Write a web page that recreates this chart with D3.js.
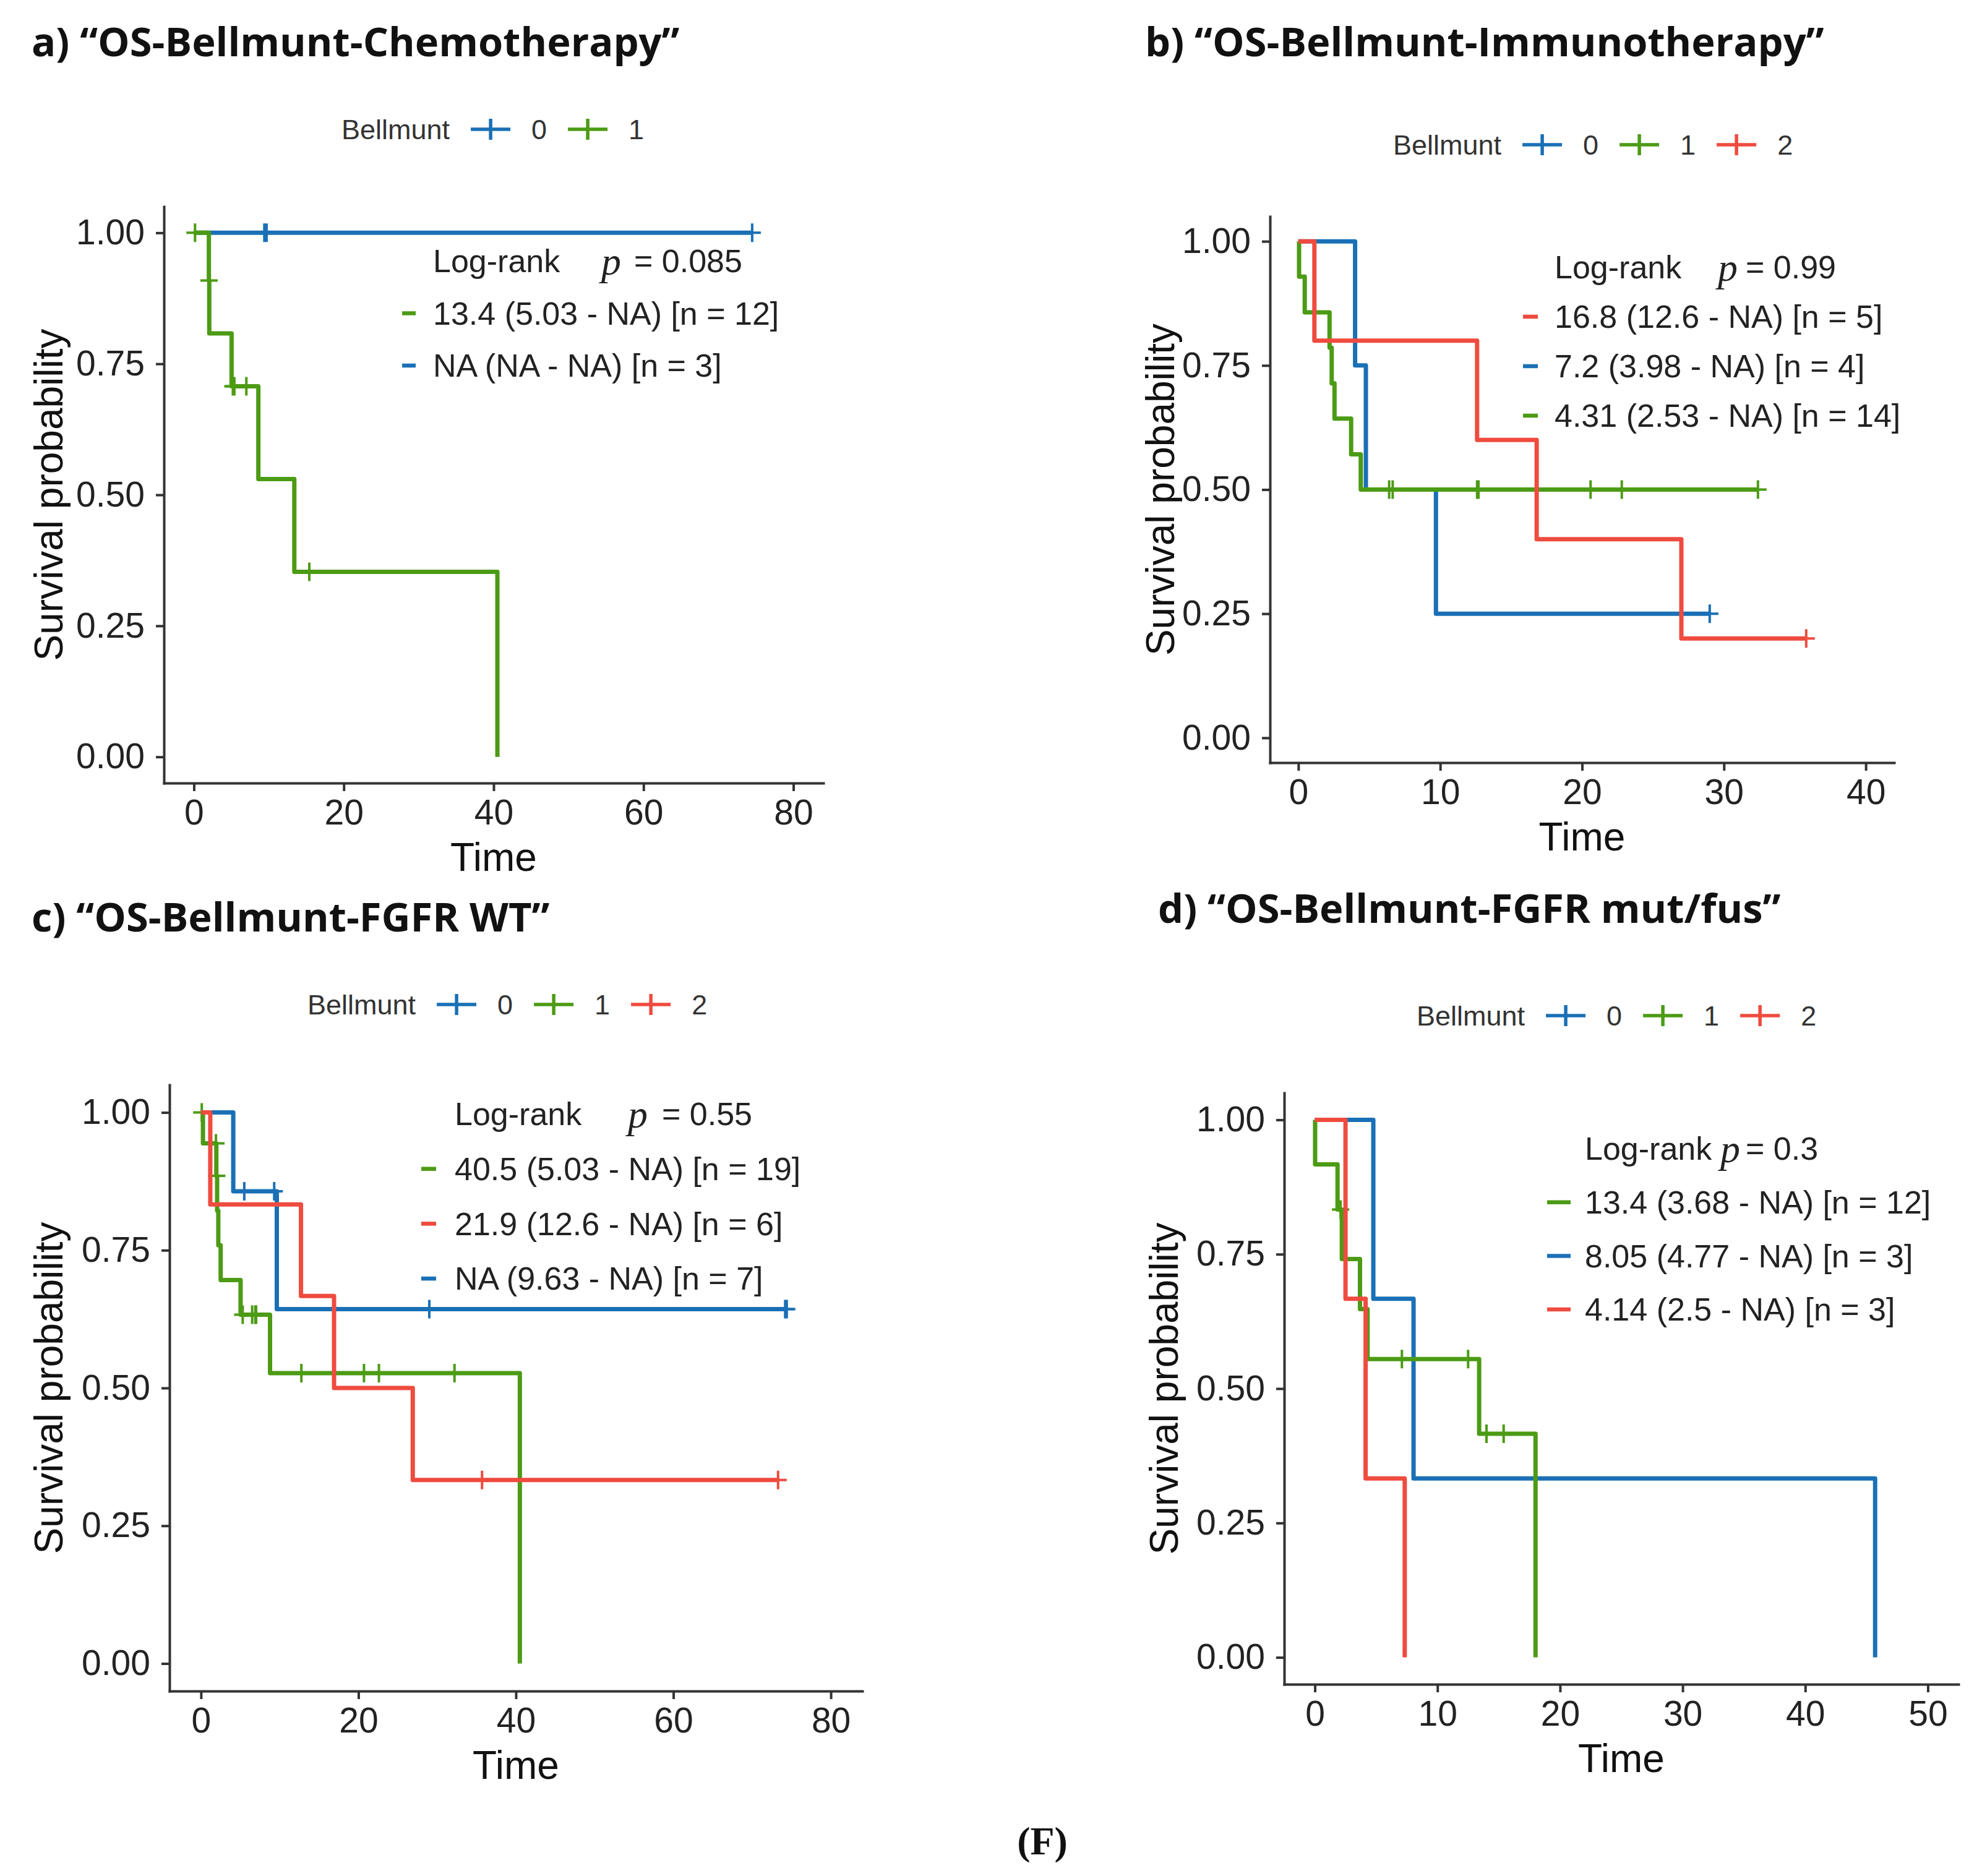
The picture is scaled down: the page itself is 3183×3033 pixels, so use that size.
<!DOCTYPE html>
<html>
<head>
<meta charset="utf-8">
<script src="https://cdn.jsdelivr.net/npm/d3@7"></script>
<style>
  body { margin: 0; background: #fff; }
</style>
</head>
<body>
<div id="chart-area"></div>
<script>
const W = 3183, H = 3033;
const colors = { '0': '#1a70b6', '1': '#4c9b15', '2': '#ef4b3f' };
const sansFont = '"Liberation Sans", Arial, sans-serif';

// ---- a) OS-Bellmunt-Chemotherapy ----
const chemoTimes0 = [];
const chemoSurv0 = [];
const chemoCens0 = [9.4, 9.7, 74.5];
const chemoTimes1 = [2.0, 2.05, 5.03, 8.6, 13.4, 40.5];
const chemoSurv1 = [0.909, 0.808, 0.707, 0.530, 0.353, 0];
const chemoCens1 = [0.15, 2.02, 5.2, 5.4, 7.0, 15.4];
const chemoNotes = ['13.4 (5.03 - NA) [n = 12]', 'NA (NA - NA) [n = 3]'];
const chemoNoteGroups = ['1', '0'];

// ---- b) OS-Bellmunt-Immunotherapy ----
const immunoTimes0 = [4.0, 4.76, 9.7];
const immunoSurv0 = [0.75, 0.5, 0.25];
const immunoCens0 = [29.0];
const immunoTimes1 = [0.05, 0.45, 2.2, 2.35, 2.55, 3.72, 4.4];
const immunoSurv1 = [0.929, 0.857, 0.786, 0.714, 0.643, 0.571, 0.5];
const immunoCens1 = [6.4, 6.65, 12.6, 12.7, 20.6, 22.8, 32.4];
const immunoTimes2 = [1.13, 12.6, 16.8, 27.0];
const immunoSurv2 = [0.8, 0.6, 0.4, 0.2];
const immunoCens2 = [35.8];
const immunoNotes = ['16.8 (12.6 - NA) [n = 5]', '7.2 (3.98 - NA) [n = 4]', '4.31 (2.53 - NA) [n = 14]'];
const immunoNoteGroups = ['2', '0', '1'];

// ---- c) OS-Bellmunt-FGFR WT ----
const wtTimes0 = [4.1, 9.63];
const wtSurv0 = [0.857, 0.643];
const wtCens0 = [5.5, 9.3, 29.0, 74.2, 74.4];
const wtTimes1 = [0.25, 1.95, 2.05, 2.2, 2.5, 5.03, 8.77, 40.5];
const wtSurv1 = [0.944, 0.885, 0.822, 0.759, 0.696, 0.633, 0.527, 0];
const wtCens1 = [0.1, 1.9, 2.0, 5.3, 6.5, 6.9, 7.0, 12.75, 20.7, 22.6, 32.2];
const wtTimes2 = [1.18, 12.7, 16.9, 26.9];
const wtSurv2 = [0.833, 0.667, 0.5, 0.333];
const wtCens2 = [35.7, 73.3];
const wtNotes = ['40.5 (5.03 - NA) [n = 19]', '21.9 (12.6 - NA) [n = 6]', 'NA (9.63 - NA) [n = 7]'];
const wtNoteGroups = ['1', '2', '0'];

// ---- d) OS-Bellmunt-FGFR mut/fus ----
const mutTimes0 = [4.77, 8.05, 45.7];
const mutSurv0 = [0.667, 0.333, 0];
const mutCens0 = [];
const mutTimes1 = [0.02, 1.85, 2.2, 3.68, 4.3, 13.4, 18.0];
const mutSurv1 = [0.917, 0.833, 0.741, 0.648, 0.555, 0.416, 0];
const mutCens1 = [2.1, 7.1, 12.5, 14.0, 15.4];
const mutTimes2 = [2.5, 4.14, 7.33];
const mutSurv2 = [0.667, 0.333, 0];
const mutCens2 = [];
const mutNotes = ['13.4 (3.68 - NA) [n = 12]', '8.05 (4.77 - NA) [n = 3]', '4.14 (2.5 - NA) [n = 3]'];
const mutNoteGroups = ['1', '0', '2'];

const yTicks = [0, 0.25, 0.5, 0.75, 1];
const xTicks80 = [0, 20, 40, 60, 80];
const xTicks40 = [0, 10, 20, 30, 40];
const xTicks50 = [0, 10, 20, 30, 40, 50];

const panels = [
  { title: 'a) \u201cOS-Bellmunt-Chemotherapy\u201d', tx: 51, ty: 91,
    left: 265, right: 1331, top: 334, bottom: 1266, xMax: 80, xTicks: xTicks80,
    curves: [
      { g: '0', t: chemoTimes0, s: chemoSurv0, c: chemoCens0 },
      { g: '1', t: chemoTimes1, s: chemoSurv1, c: chemoCens1 }],
    legendX: 552, legendY: 209,
    pval: '0.085', lrX: 700, pX: 972, eqX: 1025, notes: chemoNotes, noteGroups: chemoNoteGroups,
    noteY: 422, noteStep: 84.5, dashX: 650, dashW: 22, ylabX: 101 },
  { title: 'b) \u201cOS-Bellmunt-Immunotherapy\u201d', tx: 1851, ty: 91,
    left: 2053, right: 3062, top: 350, bottom: 1233, xMax: 40, xTicks: xTicks40,
    curves: [
      { g: '0', t: immunoTimes0, s: immunoSurv0, c: immunoCens0 },
      { g: '1', t: immunoTimes1, s: immunoSurv1, c: immunoCens1 },
      { g: '2', t: immunoTimes2, s: immunoSurv2, c: immunoCens2 }],
    legendX: 2252, legendY: 234,
    pval: '0.99', lrX: 2513, pX: 2777, eqX: 2822, notes: immunoNotes, noteGroups: immunoNoteGroups,
    noteY: 432, noteStep: 80, dashX: 2462, dashW: 24, ylabX: 1898 },
  { title: 'c) \u201cOS-Bellmunt-FGFR WT\u201d', tx: 51, ty: 1506,
    left: 274, right: 1394, top: 1754, bottom: 2734, xMax: 80, xTicks: xTicks80,
    curves: [
      { g: '0', t: wtTimes0, s: wtSurv0, c: wtCens0 },
      { g: '1', t: wtTimes1, s: wtSurv1, c: wtCens1 },
      { g: '2', t: wtTimes2, s: wtSurv2, c: wtCens2 }],
    legendX: 497, legendY: 1624,
    pval: '0.55', lrX: 735, pX: 1015, eqX: 1070, notes: wtNotes, noteGroups: wtNoteGroups,
    noteY: 1801, noteStep: 88.7, dashX: 681, dashW: 24, ylabX: 101 },
  { title: 'd) \u201cOS-Bellmunt-FGFR mut/fus\u201d', tx: 1872, ty: 1492,
    left: 2076, right: 3166, top: 1767, bottom: 2723, xMax: 50, xTicks: xTicks50,
    curves: [
      { g: '0', t: mutTimes0, s: mutSurv0, c: mutCens0 },
      { g: '1', t: mutTimes1, s: mutSurv1, c: mutCens1 },
      { g: '2', t: mutTimes2, s: mutSurv2, c: mutCens2 }],
    legendX: 2290, legendY: 1642,
    pval: '0.3', lrX: 2562, pX: 2781, eqX: 2822, notes: mutNotes, noteGroups: mutNoteGroups,
    noteY: 1857, noteStep: 86.7, dashX: 2501, dashW: 38, ylabX: 1904 }
];

const svg = d3.select('#chart-area').append('svg')
  .attr('width', W)
  .attr('height', H)
  .attr('viewBox', `0 0 ${W} ${H}`)
  .attr('font-family', sansFont);

svg.append('rect').attr('width', W).attr('height', H).attr('fill', '#fff');

// survival value of a step curve at time t
function stepValue(times, surv, t) {
  const i = d3.bisectRight(times, t);
  return i === 0 ? 1 : surv[i - 1];
}

panels.forEach(p => {
  const g = svg.append('g');

  // title
  g.append('text')
    .attr('x', p.tx)
    .attr('y', p.ty)
    .attr('font-family', '"Open Sans", "Liberation Sans", sans-serif')
    .attr('font-weight', 700)
    .attr('font-size', 65)
    .attr('fill', '#111')
    .text(p.title);

  const x = d3.scaleLinear()
    .domain([-0.05 * p.xMax, 1.05 * p.xMax])
    .range([p.left, p.right]);
  const y = d3.scaleLinear()
    .domain([-0.05, 1.05])
    .range([p.bottom, p.top]);

  // axes
  const xAxis = g.append('g')
    .attr('transform', `translate(0, ${p.bottom})`)
    .call(d3.axisBottom(x).tickValues(p.xTicks).tickSize(13).tickSizeOuter(0).tickPadding(14));
  const yAxis = g.append('g')
    .attr('transform', `translate(${p.left}, 0)`)
    .call(d3.axisLeft(y).tickValues(yTicks).tickFormat(d3.format('.2f')).tickSize(13).tickSizeOuter(0).tickPadding(18));
  [xAxis, yAxis].forEach(a => {
    a.select('.domain').attr('stroke', '#333').attr('stroke-width', 4).attr('stroke-linecap', 'square');
    a.selectAll('.tick line').attr('stroke', '#333').attr('stroke-width', 4);
    a.selectAll('.tick text')
      .attr('font-family', sansFont)
      .attr('font-size', 57)
      .attr('fill', '#222');
  });

  // axis titles
  g.append('text')
    .attr('x', (p.left + p.right) / 2)
    .attr('y', p.bottom + 142)
    .attr('text-anchor', 'middle')
    .attr('font-size', 64)
    .attr('fill', '#111')
    .text('Time');
  g.append('text')
    .attr('transform', `translate(${p.ylabX}, ${(p.top + p.bottom) / 2}) rotate(-90)`)
    .attr('text-anchor', 'middle')
    .attr('font-size', 64)
    .attr('fill', '#111')
    .text('Survival probability');

  // curves
  const line = d3.line()
    .x(d => x(d[0]))
    .y(d => y(d[1]))
    .curve(d3.curveStepAfter);

  p.curves.forEach(cv => {
    const end = Math.max(cv.t.length ? cv.t[cv.t.length - 1] : 0, cv.c.length ? cv.c[cv.c.length - 1] : 0);
    const pts = [[0, 1]].concat(cv.t.map((t, i) => [t, cv.s[i]]));
    const last = pts[pts.length - 1];
    if (end > last[0]) pts.push([end, last[1]]);
    g.append('path')
      .attr('d', line(pts))
      .attr('fill', 'none')
      .attr('stroke', colors[cv.g])
      .attr('stroke-width', 7)
      .attr('stroke-linejoin', 'round');

    g.selectAll(null)
      .data(cv.c)
      .enter()
      .append('path')
        .attr('d', c => {
          const cx = x(c), cy = y(stepValue(cv.t, cv.s, c));
          return `M${cx - 14},${cy}H${cx + 14}M${cx},${cy - 15}V${cy + 15}`;
        })
        .attr('stroke', colors[cv.g])
        .attr('stroke-width', 4)
        .attr('fill', 'none');
  });

  // legend
  const leg = g.append('g').attr('transform', `translate(0, ${p.legendY})`);
  const lt = leg.append('text')
    .attr('x', p.legendX)
    .attr('dy', '0.36em')
    .attr('font-size', 45)
    .attr('fill', '#333')
    .text('Bellmunt');
  let cx = p.legendX + lt.node().getComputedTextLength() + 34;
  p.curves.forEach(cv => {
    leg.append('path')
      .attr('d', `M${cx},0H${cx + 64}M${cx + 32},-17V17`)
      .attr('stroke', colors[cv.g])
      .attr('stroke-width', 5.5)
      .attr('fill', 'none');
    const lab = leg.append('text')
      .attr('x', cx + 64 + 34)
      .attr('dy', '0.36em')
      .attr('font-size', 45)
      .attr('fill', '#333')
      .text(cv.g);
    cx += 64 + 34 + lab.node().getComputedTextLength() + 34;
  });

  // log-rank annotation
  const ann = g.append('g');
  ann.append('text')
    .attr('x', p.lrX).attr('y', p.noteY).attr('dy', '0.35em')
    .attr('font-size', 52).attr('fill', '#222')
    .text('Log-rank');
  ann.append('text')
    .attr('x', p.pX).attr('y', p.noteY).attr('dy', '0.35em')
    .attr('font-family', '"Liberation Serif", "DejaVu Serif", serif')
    .attr('font-style', 'italic')
    .attr('font-size', 64).attr('fill', '#222')
    .text('p');
  ann.append('text')
    .attr('x', p.eqX).attr('y', p.noteY).attr('dy', '0.35em')
    .attr('font-size', 52).attr('fill', '#222')
    .text('= ' + p.pval);

  p.notes.forEach((txt, i) => {
    const ny = p.noteY + (i + 1) * p.noteStep;
    ann.append('path')
      .attr('d', `M${p.dashX},${ny}H${p.dashX + p.dashW}`)
      .attr('stroke', colors[p.noteGroups[i]])
      .attr('stroke-width', 6.5);
    ann.append('text')
      .attr('x', p.lrX).attr('y', ny).attr('dy', '0.35em')
      .attr('font-size', 52).attr('fill', '#222')
      .text(txt);
  });
});

// figure label
svg.append('text')
  .attr('x', 1685)
  .attr('y', 2998)
  .attr('text-anchor', 'middle')
  .attr('font-family', '"Liberation Serif", "Times New Roman", serif')
  .attr('font-weight', 700)
  .attr('font-size', 64)
  .attr('fill', '#111')
  .text('(F)');
</script>
</body>
</html>
